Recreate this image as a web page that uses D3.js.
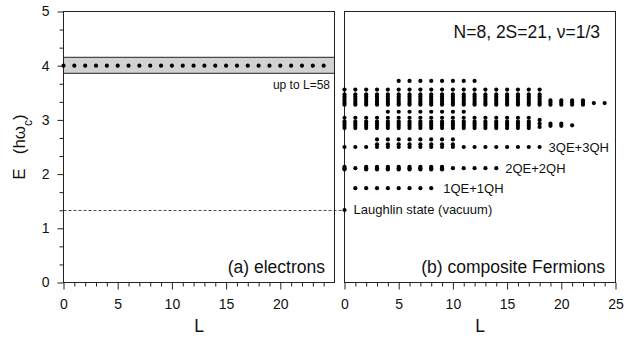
<!DOCTYPE html>
<html>
<head>
<meta charset="utf-8">
<script src="https://cdn.jsdelivr.net/npm/d3@7"></script>
<style>
  body { margin: 0; background: #fff; }
  svg text { font-family: "Liberation Sans", Arial, sans-serif; fill: #111; }
</style>
</head>
<body>
<div id="plot"></div>
<script>
// chart values
let tickMajorL = [0, 5, 10, 15, 20];
let tickMajorR = [0, 5, 10, 15, 20, 25];
let tickMinorL = [1, 2, 3, 4, 6, 7, 8, 9, 11, 12, 13, 14, 16, 17, 18, 19, 21, 22, 23, 24];
let tickMajorE = [0, 1, 2, 3, 4, 5];
let tickMinorE = [0.333, 0.667, 1.333, 1.667, 2.333, 2.667, 3.333, 3.667, 4.333, 4.667];

// (a) electrons
let elecL = [0, 1, 2, 3, 4, 5, 6, 7, 8, 9, 10, 11, 12, 13, 14, 15, 16, 17, 18, 19, 20, 21, 22, 23, 24];
let elecE = [4.0];
let elecBand = [3.86, 4.155];
let laughlinE = 1.338;

// (b) composite fermions: L values and the energies stacked at each of them
let vacL = [0];                         let vacE = [1.338];
let qe1L = [1, 2, 3, 4, 5, 6, 7, 8];    let qe1E = [1.74];
let qe2L = [0, 1, 2, 3, 4, 5, 6, 7, 8, 9, 10, 11, 12, 13, 14];  let qe2E = [2.11];
let qe2xL = [0, 2, 3, 4, 5, 6, 7, 8, 9];                         let qe2xE = [2.085, 2.135];
let qe3L = [0, 1, 2, 3, 4, 5, 6, 7, 8, 9, 10, 11, 12, 13, 14, 15, 16, 17, 18];  let qe3E = [2.5];
let qe3xL = [3, 4, 5, 6, 7, 8, 9, 10];  let qe3xE = [2.55, 2.64];
let bandCL = [0, 1, 2, 3, 4, 5, 6, 7, 8, 9, 10, 11, 12, 13, 14, 15, 16, 17];  let bandCE = [3.04, 2.97, 2.93, 2.89, 2.85];
let bandC2L = [18];                     let bandC2E = [3.0, 2.93, 2.87];
let bandC3L = [19, 20];                 let bandC3E = [2.93, 2.89];
let bandC4L = [21];                     let bandC4E = [2.9];
let bandBL = [0, 1, 2, 3, 4, 5, 6, 7, 8, 9, 10, 11, 12, 13, 14, 15, 16, 17, 18];  let bandBE = [3.56, 3.47, 3.43, 3.39, 3.35, 3.31, 3.28];
let bandB2L = [19, 20, 21, 22];         let bandB2E = [3.36, 3.32, 3.28];
let bandB3L = [23, 24];                 let bandB3E = [3.31];
let bandBlowL = [4, 5, 6, 7, 8, 9, 10, 11];  let bandBlowE = [3.15];
let rowAL = [5, 6, 7, 8, 9, 10, 11, 12];     let rowAE = [3.72];

let svgWidth = 641, svgHeight = 339;
let dotR = 2.1;

function stack(Ls, Es) {
    let out = [];
    Ls.forEach(l => Es.forEach(e => out.push({ L: l, E: e })));
    return out;
}

let cfPoints = [].concat(
    stack(vacL, vacE), stack(qe1L, qe1E), stack(qe2L, qe2E), stack(qe2xL, qe2xE),
    stack(qe3L, qe3E), stack(qe3xL, qe3xE),
    stack(bandCL, bandCE), stack(bandC2L, bandC2E), stack(bandC3L, bandC3E), stack(bandC4L, bandC4E),
    stack(bandBL, bandBE), stack(bandB2L, bandB2E), stack(bandB3L, bandB3E),
    stack(bandBlowL, bandBlowE), stack(rowAL, rowAE)
);
let elecPoints = stack(elecL, elecE);

let xL = d3.scaleLinear().domain([0, 25]).range([63.5, 334.5]);
let xR = d3.scaleLinear().domain([0, 25]).range([344.5, 615.5]);
let y = d3.scaleLinear().domain([0, 5]).range([282.5, 11.5]);

let svg = d3.select('#plot')
            .append('svg')
                .attr('width', svgWidth)
                .attr('height', svgHeight);

// grey band of electron states
svg.append('rect')
    .attr('x', xL(0)).attr('y', y(elecBand[1]))
    .attr('width', xL(25) - xL(0)).attr('height', y(elecBand[0]) - y(elecBand[1]))
    .attr('fill', '#d2d2d2').attr('stroke', '#222').attr('stroke-width', 1);

// dashed Laughlin line running across both panels
svg.append('line')
    .attr('x1', xL(0)).attr('x2', xR(0))
    .attr('y1', Math.round(y(laughlinE)) + 0.5).attr('y2', Math.round(y(laughlinE)) + 0.5)
    .attr('stroke', '#222').attr('stroke-width', 0.8).attr('stroke-dasharray', '3,2');

// axes
function xAxes(x, major, minor) {
    let g = svg.append('g').attr('transform', 'translate(0,282.5)');
    g.call(d3.axisBottom(x).tickValues(minor).tickSize(4).tickSizeOuter(0).tickFormat(''));
    let g2 = svg.append('g').attr('transform', 'translate(0,282.5)');
    g2.call(d3.axisBottom(x).tickValues(major).tickSize(7).tickSizeOuter(0).tickPadding(10).tickFormat(d3.format('d')));
    g2.selectAll('text').style('font-size', '14px');
    [g, g2].forEach(a => { a.select('.domain').remove(); a.selectAll('line').attr('stroke', '#222'); });
}
xAxes(xL, tickMajorL, tickMinorL);
xAxes(xR, tickMajorR, tickMinorL);

let gy = svg.append('g').attr('transform', 'translate(63.5,0)');
gy.call(d3.axisLeft(y).tickValues(tickMajorE).tickSize(6).tickSizeOuter(0).tickPadding(8).tickFormat(d3.format('d')));
gy.selectAll('text').style('font-size', '14px');
let gy2 = svg.append('g').attr('transform', 'translate(63.5,0)');
gy2.call(d3.axisLeft(y).tickValues(tickMinorE).tickSize(4).tickSizeOuter(0).tickFormat(''));
[gy, gy2].forEach(a => { a.select('.domain').remove(); a.selectAll('line').attr('stroke', '#222'); });

// frames
[xL, xR].forEach(x => {
    svg.append('rect')
        .attr('x', x(0)).attr('y', y(5))
        .attr('width', x(25) - x(0)).attr('height', y(0) - y(5))
        .attr('fill', 'none').attr('stroke', '#222').attr('stroke-width', 1);
});

// dots
svg.append('g').selectAll('circle')
    .data(elecPoints).enter()
    .append('circle')
        .attr('r', dotR)
        .attr('cx', d => xL(d.L))
        .attr('cy', d => y(d.E))
        .attr('fill', '#000');

svg.append('g').selectAll('circle')
    .data(cfPoints).enter()
    .append('circle')
        .attr('r', dotR)
        .attr('cx', d => xR(d.L))
        .attr('cy', d => y(d.E))
        .attr('fill', '#000');

// texts
function label(x, yy, txt, size, anchor) {
    return svg.append('text').attr('x', x).attr('y', yy)
        .attr('text-anchor', anchor || 'start')
        .style('font-size', size + 'px').text(txt);
}
label(330, 89, 'up to L=58', 12, 'end');
label(325, 273, '(a) electrons', 17.5, 'end');
label(605, 273, '(b) composite Fermions', 17.5, 'end');
label(600, 38, 'N=8, 2S=21, \u03bd=1/3', 17.5, 'end');
label(xR(0) + 9, y(laughlinE) + 4.5, 'Laughlin state (vacuum)', 13);
label(xR(8) + 12, y(qe1E[0]) + 4.5, '1QE+1QH', 13);
label(xR(14) + 9, y(qe2E[0]) + 4.5, '2QE+2QH', 13);
label(xR(18) + 9, y(qe3E[0]) + 4.5, '3QE+3QH', 13);
label((xL(0) + xL(25)) / 2, 332, 'L', 17.5, 'middle');
label((xR(0) + xR(25)) / 2, 332, 'L', 17.5, 'middle');

let yl = svg.append('text')
    .attr('transform', 'translate(25,147) rotate(-90)')
    .attr('text-anchor', 'middle')
    .attr('xml:space', 'preserve')
    .style('font-size', '17px');
yl.append('tspan').text('E   (h\u03c9');
yl.append('tspan').attr('baseline-shift', 'sub').style('font-size', '12px').text('c');
yl.append('tspan').text(')');
</script>
</body>
</html>
